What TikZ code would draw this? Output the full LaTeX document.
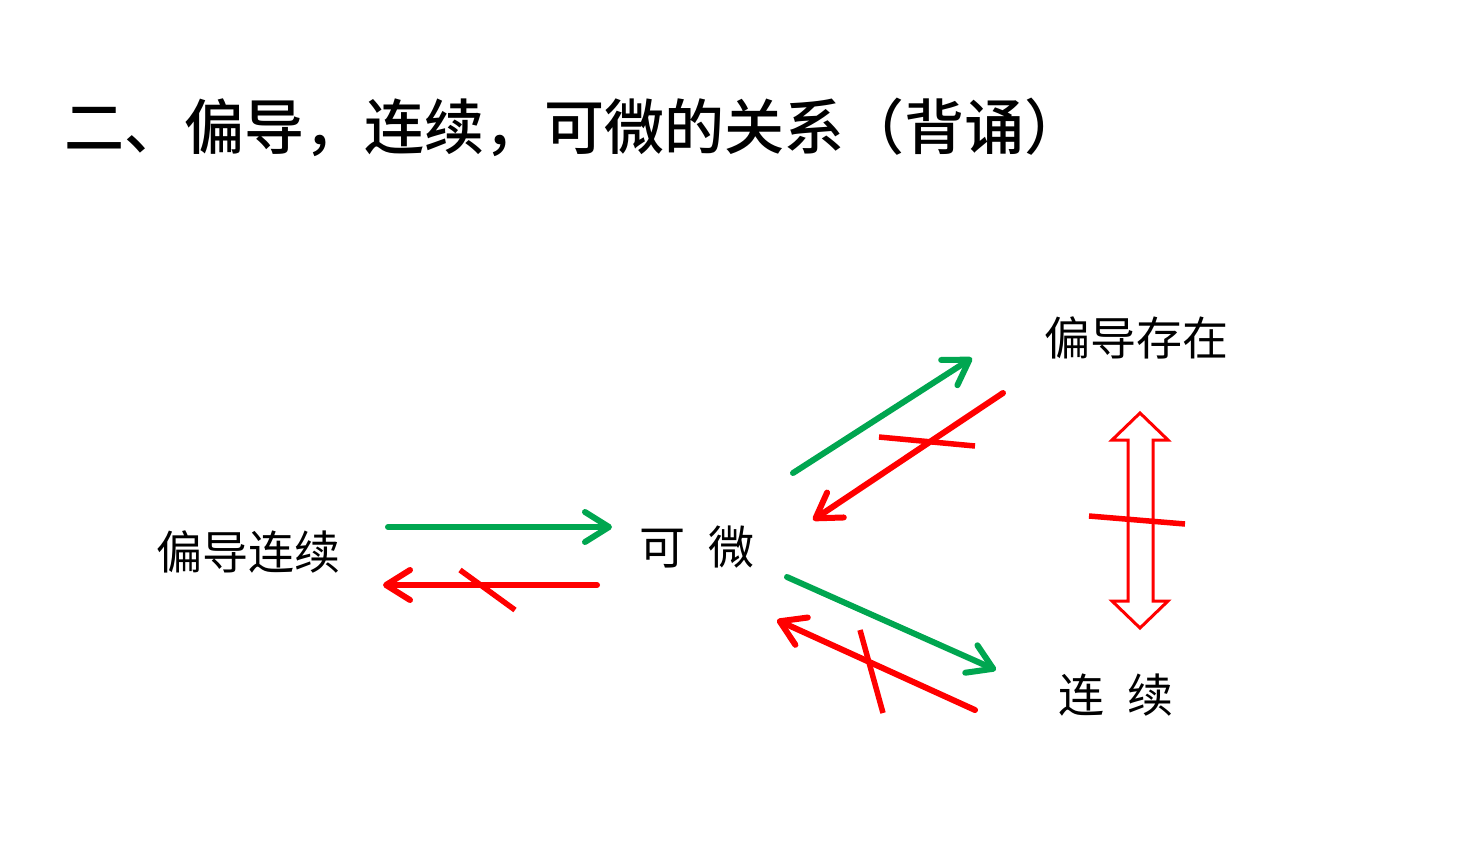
\documentclass[tikz,border=0pt]{standalone}
\usepackage{fontspec}
\newfontfamily\cjk{Noto Sans CJK SC}
\newfontfamily\cjkb{Noto Sans CJK SC Medium}
\usetikzlibrary{arrows.meta}
\definecolor{okgreen}{RGB}{0,166,80}
\definecolor{nored}{RGB}{255,0,0}
\tikzset{
  lbl/.style={inner sep=0pt, font=\cjk\fontsize{46}{50}\selectfont},
  yes/.style={draw=okgreen, line width=6pt, line cap=round, -{Straight Barb[length=24pt,width=30pt,line cap=round,line join=round]}},
  no/.style={draw=nored, line width=6pt, line cap=round, -{Straight Barb[length=24pt,width=30pt,line cap=round,line join=round]}},
  strike/.style={draw=nored, line width=5.5pt},
  hollow/.style={draw=nored, line width=3pt, fill=white, line join=miter}
}
\begin{document}
\begin{tikzpicture}[x=1pt,y=-1pt]
\useasboundingbox (0,0) rectangle (1466,844);
\node[inner sep=0pt, anchor=west, font=\cjkb\fontsize{60}{64}\selectfont] (title) at (64,127) {二、偏导，连续，可微的关系（背诵）};
\node[lbl] (pdc) at (248,552) {偏导连续};
\node[lbl] (kw) at (697,547) {可\hspace{0.5em}微};
\node[lbl] (pde) at (1136,338) {偏导存在};
\node[lbl] (lx) at (1116,695) {连\hspace{0.5em}续};
% left pair
\coordinate (g1s) at (388,527); \coordinate (g1e) at (612,527);
\coordinate (r1s) at (597,585); \coordinate (r1e) at (383,585);
\draw[yes] (g1s) -- (g1e);
\draw[no] (r1s) -- (r1e);
\coordinate (s1a) at (460,570); \coordinate (s1b) at (515,610);
\draw[strike] (s1a) -- (s1b);
% upper right pair
\coordinate (g2s) at (793,473); \coordinate (g2e) at (972,358);
\coordinate (r2s) at (1003,393); \coordinate (r2e) at (813,520);
\draw[yes] (g2s) -- (g2e);
\draw[no] (r2s) -- (r2e);
\coordinate (s2a) at (879,437); \coordinate (s2b) at (975,446);
\draw[strike] (s2a) -- (s2b);
% lower right pair
\coordinate (g3s) at (787,577); \coordinate (g3e) at (996,670);
\coordinate (r3s) at (975,710); \coordinate (r3e) at (777,620);
\draw[yes] (g3s) -- (g3e);
\draw[no] (r3s) -- (r3e);
\coordinate (s3a) at (860,630); \coordinate (s3b) at (883,713);
\draw[strike] (s3a) -- (s3b);
% hollow double arrow
\coordinate (ht) at (1140,413); \coordinate (hb) at (1140,628);
\draw[hollow] (ht) -- (1168,440) -- (1153,440) -- (1153,601) -- (1168,601) -- (hb)
  -- (1112,601) -- (1128,601) -- (1128,440) -- (1112,440) -- cycle;
\coordinate (s4a) at (1089,516); \coordinate (s4b) at (1185,524);
\draw[strike] (s4a) -- (s4b);
\end{tikzpicture}
\end{document}
